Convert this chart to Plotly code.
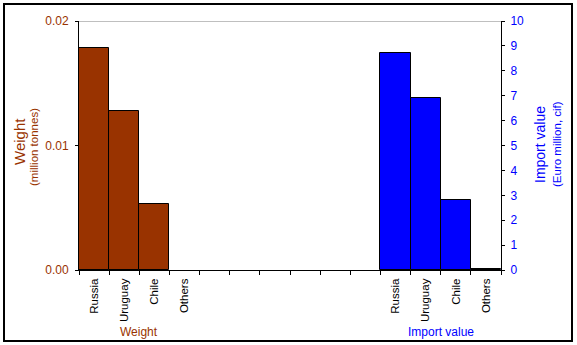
import plotly.graph_objects as go

# ---- data ----
weight_categories = ["Russia", "Uruguay", "Chile", "Others"]
weight_values = [0.0178, 0.0128, 0.0053, 0.0]
import_categories = ["Russia", "Uruguay", "Chile", "Others"]
import_values = [8.70, 6.90, 2.80, 0.04]
n_gap = 6  # empty slots between the two groups

BROWN = "#993300"
BLUE = "#0000FF"
FONT = "Liberation Sans, Arial, sans-serif"

w_pos = list(range(len(weight_categories)))
i_start = len(weight_categories) + n_gap
i_pos = [i_start + k for k in range(len(import_categories))]
n_slots = i_start + len(import_categories)

w_line = [1 if v > 0 else 0 for v in weight_values]

fig = go.Figure()
fig.add_trace(go.Bar(x=w_pos, y=weight_values, width=1,
                     marker=dict(color=BROWN, line=dict(color="black", width=w_line)),
                     yaxis="y", showlegend=False, hoverinfo="skip"))
fig.add_trace(go.Bar(x=i_pos, y=import_values, width=1,
                     marker=dict(color=BLUE, line=dict(color="black", width=1)),
                     yaxis="y2", showlegend=False, hoverinfo="skip"))

W, H = 577, 345
L, R, T, B = 79, 76, 21, 75
pw = W - L - R
ph = H - T - B

fig.update_layout(
    width=W, height=H,
    margin=dict(l=L, r=R, t=T, b=B, pad=0),
    paper_bgcolor="white", plot_bgcolor="white",
    font=dict(family=FONT, size=12, color="black"),
    bargap=0,
    xaxis=dict(
        range=[-0.5, n_slots - 0.5],
        tickmode="array",
        tickvals=w_pos + i_pos,
        ticktext=weight_categories + import_categories,
        tickangle=-90,
        ticks="",
        ticklabelstandoff=3,
        tickfont=dict(size=11.5, color="black", family=FONT),
        showline=True, linecolor="black", linewidth=1,
        showgrid=False, zeroline=False,
        minor=dict(tickmode="linear", tick0=-0.5, dtick=1, ticks="outside", ticklen=4,
                   tickcolor="black", tickwidth=1, showgrid=False),
        fixedrange=True,
    ),
    yaxis=dict(
        range=[0, 0.02],
        tickmode="array", tickvals=[0, 0.01, 0.02], ticktext=["0.00", "0.01", "0.02"],
        ticks="outside", ticklen=3, tickcolor="black",
        ticklabelstandoff=4,
        tickfont=dict(size=12, color=BROWN, family=FONT),
        showline=True, linecolor="black", linewidth=1,
        showgrid=False, zeroline=False,
    ),
    yaxis2=dict(
        range=[0, 10], overlaying="y", side="right",
        tickmode="linear", tick0=0, dtick=1,
        ticks="outside", ticklen=3, tickcolor="black",
        ticklabelstandoff=3,
        tickfont=dict(size=12, color=BLUE, family=FONT),
        showline=True, linecolor="black", linewidth=1,
        showgrid=False, zeroline=False,
    ),
)

# top gridline
fig.add_shape(type="line", xref="paper", yref="y", x0=0, x1=1, y0=0.02, y1=0.02,
              line=dict(color="#808080", width=1), layer="below")

# outer border (pixel -> paper)
def px_x(p):
    return (p - L) / pw

def px_y(p):
    return (H - B - p) / ph

fig.add_shape(type="rect", xref="paper", yref="paper",
              x0=px_x(4), x1=px_x(572), y0=px_y(341), y1=px_y(4),
              line=dict(color="black", width=2), fillcolor="rgba(0,0,0,0)")

ann = [
    dict(text="Weight", x=px_x(19), y=px_y(142), size=15, color=BROWN),
    dict(text="(million tonnes)", x=px_x(34), y=px_y(147), size=11.5, color=BROWN),
    dict(text="Import value", x=px_x(540), y=px_y(145), size=14, color=BLUE),
    dict(text="(Euro million, cif)", x=px_x(557), y=px_y(144), size=11.5, color=BLUE),
]
for a in ann:
    fig.add_annotation(text=a["text"], xref="paper", yref="paper", x=a["x"], y=a["y"],
                       xanchor="center", yanchor="middle", textangle=-90, showarrow=False,
                       font=dict(size=a["size"], color=a["color"], family=FONT))

fig.add_annotation(text="Weight", xref="x", yref="paper",
                   x=(w_pos[0] + w_pos[-1]) / 2, y=px_y(332), xanchor="center", yanchor="middle",
                   showarrow=False, font=dict(size=12, color=BROWN, family=FONT))
fig.add_annotation(text="Import value", xref="x", yref="paper",
                   x=(i_pos[0] + i_pos[-1]) / 2, y=px_y(332), xanchor="center", yanchor="middle",
                   showarrow=False, font=dict(size=12, color=BLUE, family=FONT))

fig.write_html("out.html")
